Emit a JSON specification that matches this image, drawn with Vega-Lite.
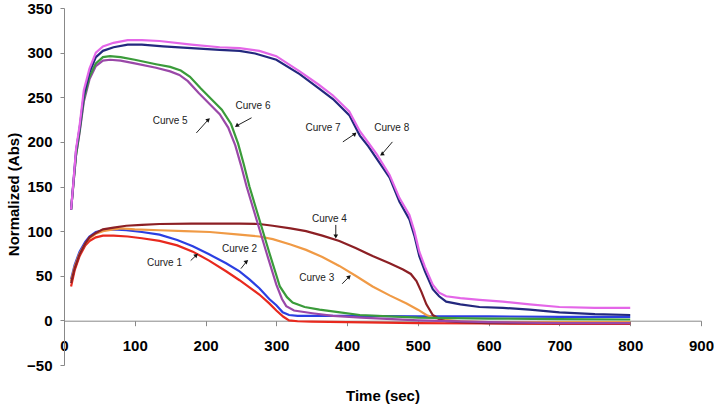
{
  "$schema": "https://vega.github.io/schema/vega-lite/v6.json",
  "width": 637,
  "height": 357,
  "autosize": "none",
  "padding": {"left": 64, "top": 8, "right": 13, "bottom": 41},
  "background": "white",
  "config": {
    "view": {"stroke": null},
    "font": "Liberation Sans",
    "axis": {
      "grid": false,
      "domainColor": "#888888",
      "tickColor": "#888888",
      "labelFont": "Liberation Sans",
      "labelFontWeight": "bold",
      "labelFontSize": 15,
      "labelColor": "#000000",
      "titleFont": "Liberation Sans",
      "titleFontWeight": "bold",
      "titleFontSize": 15,
      "titleColor": "#000000"
    }
  },
  "datasets": {
    "curves": [
      {"curve": "Curve 1", "t": 10, "v": 38}, {"curve": "Curve 1", "t": 15, "v": 56}, {"curve": "Curve 1", "t": 22, "v": 72}, {"curve": "Curve 1", "t": 30, "v": 84}, {"curve": "Curve 1", "t": 36, "v": 89}, {"curve": "Curve 1", "t": 45, "v": 93}, {"curve": "Curve 1", "t": 55, "v": 95}, {"curve": "Curve 1", "t": 70, "v": 95}, {"curve": "Curve 1", "t": 90, "v": 94}, {"curve": "Curve 1", "t": 110, "v": 92}, {"curve": "Curve 1", "t": 135, "v": 89}, {"curve": "Curve 1", "t": 160, "v": 84}, {"curve": "Curve 1", "t": 182, "v": 77}, {"curve": "Curve 1", "t": 205, "v": 67}, {"curve": "Curve 1", "t": 229, "v": 55}, {"curve": "Curve 1", "t": 248, "v": 45}, {"curve": "Curve 1", "t": 262, "v": 37}, {"curve": "Curve 1", "t": 276, "v": 29}, {"curve": "Curve 1", "t": 290, "v": 19}, {"curve": "Curve 1", "t": 300, "v": 11}, {"curve": "Curve 1", "t": 310, "v": 4}, {"curve": "Curve 1", "t": 318, "v": 0}, {"curve": "Curve 1", "t": 330, "v": -1}, {"curve": "Curve 1", "t": 350, "v": -1.5}, {"curve": "Curve 1", "t": 400, "v": -2}, {"curve": "Curve 1", "t": 500, "v": -3}, {"curve": "Curve 1", "t": 600, "v": -3.5}, {"curve": "Curve 1", "t": 700, "v": -4}, {"curve": "Curve 1", "t": 800, "v": -4},

      {"curve": "Curve 2", "t": 10, "v": 46}, {"curve": "Curve 2", "t": 15, "v": 62}, {"curve": "Curve 2", "t": 22, "v": 77}, {"curve": "Curve 2", "t": 30, "v": 88}, {"curve": "Curve 2", "t": 36, "v": 94}, {"curve": "Curve 2", "t": 45, "v": 99}, {"curve": "Curve 2", "t": 55, "v": 101}, {"curve": "Curve 2", "t": 70, "v": 102}, {"curve": "Curve 2", "t": 88, "v": 101}, {"curve": "Curve 2", "t": 110, "v": 99}, {"curve": "Curve 2", "t": 135, "v": 96}, {"curve": "Curve 2", "t": 160, "v": 90}, {"curve": "Curve 2", "t": 182, "v": 83}, {"curve": "Curve 2", "t": 205, "v": 74}, {"curve": "Curve 2", "t": 229, "v": 64}, {"curve": "Curve 2", "t": 248, "v": 55}, {"curve": "Curve 2", "t": 262, "v": 46}, {"curve": "Curve 2", "t": 276, "v": 36}, {"curve": "Curve 2", "t": 290, "v": 24}, {"curve": "Curve 2", "t": 300, "v": 17}, {"curve": "Curve 2", "t": 309, "v": 9}, {"curve": "Curve 2", "t": 318, "v": 6}, {"curve": "Curve 2", "t": 330, "v": 5}, {"curve": "Curve 2", "t": 400, "v": 5}, {"curve": "Curve 2", "t": 500, "v": 4.5}, {"curve": "Curve 2", "t": 600, "v": 4.5}, {"curve": "Curve 2", "t": 700, "v": 4}, {"curve": "Curve 2", "t": 800, "v": 4},

      {"curve": "Curve 3", "t": 10, "v": 44}, {"curve": "Curve 3", "t": 15, "v": 60}, {"curve": "Curve 3", "t": 22, "v": 75}, {"curve": "Curve 3", "t": 30, "v": 86}, {"curve": "Curve 3", "t": 36, "v": 92}, {"curve": "Curve 3", "t": 45, "v": 97}, {"curve": "Curve 3", "t": 55, "v": 100}, {"curve": "Curve 3", "t": 70, "v": 102}, {"curve": "Curve 3", "t": 80, "v": 103}, {"curve": "Curve 3", "t": 100, "v": 102}, {"curve": "Curve 3", "t": 135, "v": 101}, {"curve": "Curve 3", "t": 170, "v": 100}, {"curve": "Curve 3", "t": 206, "v": 99}, {"curve": "Curve 3", "t": 248, "v": 96}, {"curve": "Curve 3", "t": 276, "v": 94}, {"curve": "Curve 3", "t": 295, "v": 91}, {"curve": "Curve 3", "t": 320, "v": 85}, {"curve": "Curve 3", "t": 342, "v": 79}, {"curve": "Curve 3", "t": 365, "v": 71}, {"curve": "Curve 3", "t": 389, "v": 61}, {"curve": "Curve 3", "t": 412, "v": 50}, {"curve": "Curve 3", "t": 436, "v": 38}, {"curve": "Curve 3", "t": 460, "v": 28}, {"curve": "Curve 3", "t": 484, "v": 19}, {"curve": "Curve 3", "t": 500, "v": 12}, {"curve": "Curve 3", "t": 512, "v": 6}, {"curve": "Curve 3", "t": 522, "v": 3}, {"curve": "Curve 3", "t": 535, "v": 1}, {"curve": "Curve 3", "t": 560, "v": -1}, {"curve": "Curve 3", "t": 600, "v": -2}, {"curve": "Curve 3", "t": 700, "v": -2}, {"curve": "Curve 3", "t": 800, "v": -2},

      {"curve": "Curve 4", "t": 10, "v": 42}, {"curve": "Curve 4", "t": 15, "v": 58}, {"curve": "Curve 4", "t": 22, "v": 74}, {"curve": "Curve 4", "t": 30, "v": 86}, {"curve": "Curve 4", "t": 36, "v": 93}, {"curve": "Curve 4", "t": 45, "v": 98}, {"curve": "Curve 4", "t": 55, "v": 102}, {"curve": "Curve 4", "t": 70, "v": 104}, {"curve": "Curve 4", "t": 88, "v": 106}, {"curve": "Curve 4", "t": 110, "v": 107}, {"curve": "Curve 4", "t": 135, "v": 108}, {"curve": "Curve 4", "t": 180, "v": 108.5}, {"curve": "Curve 4", "t": 248, "v": 108.5}, {"curve": "Curve 4", "t": 276, "v": 108}, {"curve": "Curve 4", "t": 295, "v": 106}, {"curve": "Curve 4", "t": 320, "v": 103}, {"curve": "Curve 4", "t": 342, "v": 100}, {"curve": "Curve 4", "t": 365, "v": 95}, {"curve": "Curve 4", "t": 389, "v": 89}, {"curve": "Curve 4", "t": 412, "v": 81}, {"curve": "Curve 4", "t": 436, "v": 72}, {"curve": "Curve 4", "t": 460, "v": 64}, {"curve": "Curve 4", "t": 479, "v": 57}, {"curve": "Curve 4", "t": 490, "v": 52}, {"curve": "Curve 4", "t": 498, "v": 44}, {"curve": "Curve 4", "t": 505, "v": 32}, {"curve": "Curve 4", "t": 512, "v": 18}, {"curve": "Curve 4", "t": 521, "v": 6}, {"curve": "Curve 4", "t": 531, "v": 1}, {"curve": "Curve 4", "t": 540, "v": -1}, {"curve": "Curve 4", "t": 560, "v": -2}, {"curve": "Curve 4", "t": 600, "v": -3}, {"curve": "Curve 4", "t": 700, "v": -3}, {"curve": "Curve 4", "t": 800, "v": -3},

      {"curve": "Curve 5", "t": 10, "v": 124}, {"curve": "Curve 5", "t": 13, "v": 150}, {"curve": "Curve 5", "t": 17, "v": 185}, {"curve": "Curve 5", "t": 22, "v": 210}, {"curve": "Curve 5", "t": 28, "v": 245}, {"curve": "Curve 5", "t": 36, "v": 270}, {"curve": "Curve 5", "t": 45, "v": 285}, {"curve": "Curve 5", "t": 55, "v": 291}, {"curve": "Curve 5", "t": 65, "v": 292}, {"curve": "Curve 5", "t": 80, "v": 291}, {"curve": "Curve 5", "t": 100, "v": 288}, {"curve": "Curve 5", "t": 130, "v": 283}, {"curve": "Curve 5", "t": 150, "v": 279}, {"curve": "Curve 5", "t": 163, "v": 275}, {"curve": "Curve 5", "t": 175, "v": 268}, {"curve": "Curve 5", "t": 190, "v": 255}, {"curve": "Curve 5", "t": 205, "v": 243}, {"curve": "Curve 5", "t": 220, "v": 231}, {"curve": "Curve 5", "t": 232, "v": 216}, {"curve": "Curve 5", "t": 242, "v": 196}, {"curve": "Curve 5", "t": 250, "v": 174}, {"curve": "Curve 5", "t": 258, "v": 150}, {"curve": "Curve 5", "t": 272, "v": 113}, {"curve": "Curve 5", "t": 286, "v": 76}, {"curve": "Curve 5", "t": 300, "v": 40}, {"curve": "Curve 5", "t": 308, "v": 24}, {"curve": "Curve 5", "t": 314, "v": 16}, {"curve": "Curve 5", "t": 325, "v": 11}, {"curve": "Curve 5", "t": 351, "v": 8}, {"curve": "Curve 5", "t": 380, "v": 5}, {"curve": "Curve 5", "t": 420, "v": 3}, {"curve": "Curve 5", "t": 500, "v": 0}, {"curve": "Curve 5", "t": 600, "v": -2}, {"curve": "Curve 5", "t": 700, "v": -3}, {"curve": "Curve 5", "t": 800, "v": -3},

      {"curve": "Curve 6", "t": 10, "v": 124}, {"curve": "Curve 6", "t": 13, "v": 150}, {"curve": "Curve 6", "t": 17, "v": 185}, {"curve": "Curve 6", "t": 22, "v": 212}, {"curve": "Curve 6", "t": 28, "v": 248}, {"curve": "Curve 6", "t": 36, "v": 273}, {"curve": "Curve 6", "t": 45, "v": 288}, {"curve": "Curve 6", "t": 55, "v": 295}, {"curve": "Curve 6", "t": 65, "v": 296}, {"curve": "Curve 6", "t": 80, "v": 295}, {"curve": "Curve 6", "t": 100, "v": 292}, {"curve": "Curve 6", "t": 130, "v": 287}, {"curve": "Curve 6", "t": 150, "v": 284}, {"curve": "Curve 6", "t": 165, "v": 280}, {"curve": "Curve 6", "t": 178, "v": 273}, {"curve": "Curve 6", "t": 193, "v": 260}, {"curve": "Curve 6", "t": 208, "v": 248}, {"curve": "Curve 6", "t": 223, "v": 236}, {"curve": "Curve 6", "t": 236, "v": 220}, {"curve": "Curve 6", "t": 246, "v": 198}, {"curve": "Curve 6", "t": 254, "v": 175}, {"curve": "Curve 6", "t": 262, "v": 150}, {"curve": "Curve 6", "t": 276, "v": 113}, {"curve": "Curve 6", "t": 290, "v": 76}, {"curve": "Curve 6", "t": 305, "v": 38}, {"curve": "Curve 6", "t": 315, "v": 26}, {"curve": "Curve 6", "t": 323, "v": 20}, {"curve": "Curve 6", "t": 340, "v": 15}, {"curve": "Curve 6", "t": 361, "v": 12}, {"curve": "Curve 6", "t": 390, "v": 9}, {"curve": "Curve 6", "t": 418, "v": 6}, {"curve": "Curve 6", "t": 500, "v": 3}, {"curve": "Curve 6", "t": 600, "v": 2}, {"curve": "Curve 6", "t": 700, "v": 1.5}, {"curve": "Curve 6", "t": 800, "v": 1},

      {"curve": "Curve 7", "t": 10, "v": 124}, {"curve": "Curve 7", "t": 13, "v": 152}, {"curve": "Curve 7", "t": 17, "v": 190}, {"curve": "Curve 7", "t": 22, "v": 215}, {"curve": "Curve 7", "t": 28, "v": 252}, {"curve": "Curve 7", "t": 36, "v": 278}, {"curve": "Curve 7", "t": 45, "v": 295}, {"curve": "Curve 7", "t": 55, "v": 302}, {"curve": "Curve 7", "t": 70, "v": 306}, {"curve": "Curve 7", "t": 90, "v": 309}, {"curve": "Curve 7", "t": 110, "v": 309}, {"curve": "Curve 7", "t": 140, "v": 307}, {"curve": "Curve 7", "t": 180, "v": 305}, {"curve": "Curve 7", "t": 220, "v": 303}, {"curve": "Curve 7", "t": 248, "v": 302}, {"curve": "Curve 7", "t": 270, "v": 299}, {"curve": "Curve 7", "t": 300, "v": 292}, {"curve": "Curve 7", "t": 333, "v": 276}, {"curve": "Curve 7", "t": 360, "v": 260}, {"curve": "Curve 7", "t": 380, "v": 248}, {"curve": "Curve 7", "t": 403, "v": 230}, {"curve": "Curve 7", "t": 418, "v": 207}, {"curve": "Curve 7", "t": 430, "v": 195}, {"curve": "Curve 7", "t": 442, "v": 181}, {"curve": "Curve 7", "t": 460, "v": 160}, {"curve": "Curve 7", "t": 474, "v": 133}, {"curve": "Curve 7", "t": 488, "v": 113}, {"curve": "Curve 7", "t": 495, "v": 95}, {"curve": "Curve 7", "t": 502, "v": 72}, {"curve": "Curve 7", "t": 510, "v": 55}, {"curve": "Curve 7", "t": 521, "v": 35}, {"curve": "Curve 7", "t": 530, "v": 27}, {"curve": "Curve 7", "t": 540, "v": 21}, {"curve": "Curve 7", "t": 560, "v": 18}, {"curve": "Curve 7", "t": 587, "v": 15}, {"curve": "Curve 7", "t": 620, "v": 14}, {"curve": "Curve 7", "t": 658, "v": 12}, {"curve": "Curve 7", "t": 700, "v": 9}, {"curve": "Curve 7", "t": 750, "v": 7}, {"curve": "Curve 7", "t": 800, "v": 6},

      {"curve": "Curve 8", "t": 10, "v": 124}, {"curve": "Curve 8", "t": 13, "v": 152}, {"curve": "Curve 8", "t": 17, "v": 192}, {"curve": "Curve 8", "t": 22, "v": 218}, {"curve": "Curve 8", "t": 28, "v": 258}, {"curve": "Curve 8", "t": 36, "v": 282}, {"curve": "Curve 8", "t": 45, "v": 300}, {"curve": "Curve 8", "t": 55, "v": 307}, {"curve": "Curve 8", "t": 70, "v": 311}, {"curve": "Curve 8", "t": 90, "v": 314}, {"curve": "Curve 8", "t": 110, "v": 314}, {"curve": "Curve 8", "t": 135, "v": 313}, {"curve": "Curve 8", "t": 180, "v": 309}, {"curve": "Curve 8", "t": 220, "v": 306}, {"curve": "Curve 8", "t": 248, "v": 305}, {"curve": "Curve 8", "t": 276, "v": 302}, {"curve": "Curve 8", "t": 300, "v": 296}, {"curve": "Curve 8", "t": 333, "v": 279}, {"curve": "Curve 8", "t": 360, "v": 264}, {"curve": "Curve 8", "t": 380, "v": 252}, {"curve": "Curve 8", "t": 403, "v": 234}, {"curve": "Curve 8", "t": 418, "v": 212}, {"curve": "Curve 8", "t": 430, "v": 199}, {"curve": "Curve 8", "t": 442, "v": 186}, {"curve": "Curve 8", "t": 460, "v": 163}, {"curve": "Curve 8", "t": 474, "v": 137}, {"curve": "Curve 8", "t": 488, "v": 118}, {"curve": "Curve 8", "t": 495, "v": 100}, {"curve": "Curve 8", "t": 502, "v": 77}, {"curve": "Curve 8", "t": 510, "v": 60}, {"curve": "Curve 8", "t": 521, "v": 40}, {"curve": "Curve 8", "t": 530, "v": 31}, {"curve": "Curve 8", "t": 540, "v": 27}, {"curve": "Curve 8", "t": 560, "v": 25}, {"curve": "Curve 8", "t": 587, "v": 23}, {"curve": "Curve 8", "t": 620, "v": 21}, {"curve": "Curve 8", "t": 658, "v": 18}, {"curve": "Curve 8", "t": 700, "v": 15}, {"curve": "Curve 8", "t": 750, "v": 14}, {"curve": "Curve 8", "t": 800, "v": 14}
    ],
    "labels": [
      {"label": "Curve 1", "x": 142, "y": 64},
      {"label": "Curve 2", "x": 248, "y": 80},
      {"label": "Curve 3", "x": 357, "y": 47},
      {"label": "Curve 4", "x": 375, "y": 114},
      {"label": "Curve 5", "x": 150, "y": 223},
      {"label": "Curve 6", "x": 267, "y": 240},
      {"label": "Curve 7", "x": 366, "y": 215},
      {"label": "Curve 8", "x": 463, "y": 215}
    ],
    "arrows": [
      {"label": "Curve 1", "dir": "ne", "x1": 179, "y1": 67, "x2": 187, "y2": 73},
      {"label": "Curve 2", "dir": "ne", "x1": 250, "y1": 58, "x2": 258, "y2": 66},
      {"label": "Curve 3", "dir": "ne", "x1": 393, "y1": 41, "x2": 403, "y2": 49},
      {"label": "Curve 4", "dir": "s", "x1": 384, "y1": 107, "x2": 384, "y2": 94},
      {"label": "Curve 5", "dir": "ne", "x1": 187, "y1": 210, "x2": 204, "y2": 225},
      {"label": "Curve 6", "dir": "sw", "x1": 265, "y1": 227, "x2": 244, "y2": 218},
      {"label": "Curve 7", "dir": "ne", "x1": 394, "y1": 200, "x2": 411, "y2": 209},
      {"label": "Curve 8", "dir": "sw", "x1": 464, "y1": 200, "x2": 449, "y2": 186}
    ]
  },
  "layer": [
    {
      "data": {"name": "curves"},
      "mark": {"type": "line", "strokeWidth": 2.2, "clip": false},
      "encoding": {
        "x": {
          "field": "t", "type": "quantitative",
          "scale": {"domain": [0, 900], "nice": false, "zero": false},
          "axis": {
            "title": "Time (sec)",
            "values": [0, 100, 200, 300, 400, 500, 600, 700, 800, 900],
            "offset": -44.3,
            "tickSize": 5,
            "labelPadding": 13,
            "labelFlush": false,
            "labelOverlap": false,
            "titleY": 68,
            "titleBaseline": "top"
          }
        },
        "y": {
          "field": "v", "type": "quantitative",
          "scale": {"domain": [-50, 350], "nice": false, "zero": false},
          "axis": {
            "title": "Normalized (Abs)",
            "values": [-50, 0, 50, 100, 150, 200, 250, 300, 350],
            "tickSize": 4,
            "labelPadding": 8,
            "labelFlush": false,
            "labelOverlap": false,
            "titleX": -51,
            "titleY": 186,
            "titleBaseline": "middle"
          }
        },
        "color": {
          "field": "curve", "type": "nominal", "legend": null,
          "scale": {
            "domain": ["Curve 1", "Curve 2", "Curve 3", "Curve 4", "Curve 5", "Curve 6", "Curve 7", "Curve 8"],
            "range": ["#e8291e", "#2b3fe2", "#f09a45", "#8c1f24", "#9a48a8", "#3a9b3a", "#23287e", "#e466e8"]
          }
        },
        "order": {"field": "t", "type": "quantitative"}
      }
    },
    {
      "data": {"name": "arrows"},
      "mark": {"type": "rule", "color": "#222222", "strokeWidth": 1},
      "encoding": {
        "x": {"field": "x1", "type": "quantitative"},
        "y": {"field": "y1", "type": "quantitative"},
        "x2": {"field": "x2"},
        "y2": {"field": "y2"}
      }
    },
    {
      "data": {"name": "arrows"},
      "transform": [{"filter": "datum.dir === 'ne'"}],
      "mark": {"type": "point", "shape": "triangle-up", "filled": true, "color": "#111111", "size": 22, "angle": 48, "opacity": 1},
      "encoding": {
        "x": {"field": "x2", "type": "quantitative"},
        "y": {"field": "y2", "type": "quantitative"}
      }
    },
    {
      "data": {"name": "arrows"},
      "transform": [{"filter": "datum.dir === 's'"}],
      "mark": {"type": "point", "shape": "triangle-up", "filled": true, "color": "#111111", "size": 22, "angle": 180, "opacity": 1},
      "encoding": {
        "x": {"field": "x2", "type": "quantitative"},
        "y": {"field": "y2", "type": "quantitative"}
      }
    },
    {
      "data": {"name": "arrows"},
      "transform": [{"filter": "datum.dir === 'sw'"}],
      "mark": {"type": "point", "shape": "triangle-up", "filled": true, "color": "#111111", "size": 22, "angle": 235, "opacity": 1},
      "encoding": {
        "x": {"field": "x2", "type": "quantitative"},
        "y": {"field": "y2", "type": "quantitative"}
      }
    },
    {
      "data": {"name": "labels"},
      "mark": {"type": "text", "font": "Liberation Sans", "fontSize": 10, "color": "#222222", "align": "center", "baseline": "middle"},
      "encoding": {
        "x": {"field": "x", "type": "quantitative"},
        "y": {"field": "y", "type": "quantitative"},
        "text": {"field": "label"}
      }
    }
  ]
}
